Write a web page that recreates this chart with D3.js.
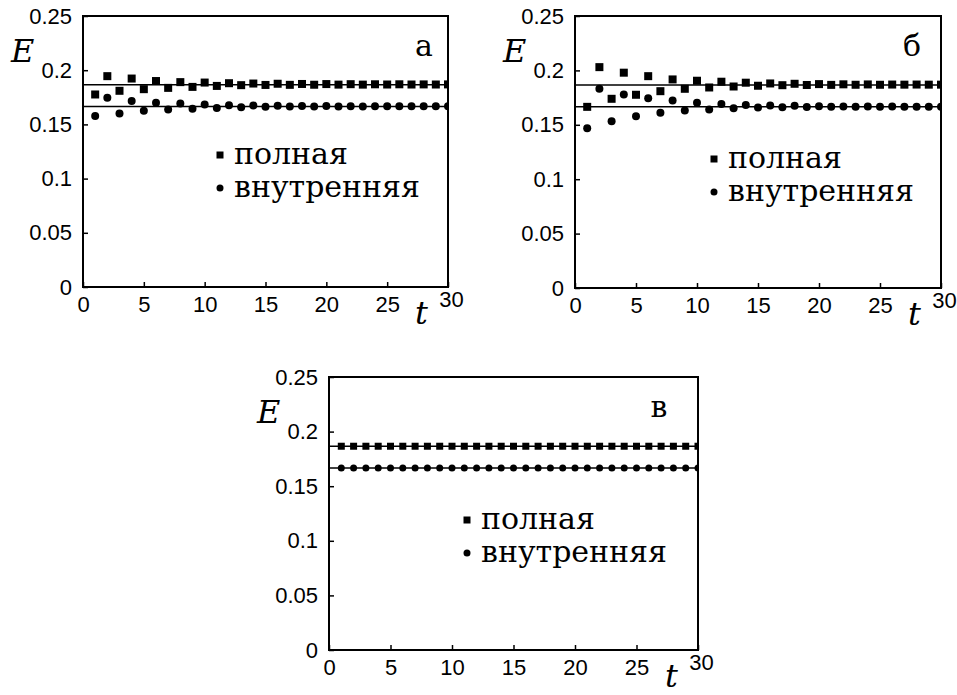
<!DOCTYPE html>
<html>
<head>
<meta charset="utf-8">
<script src="https://cdn.jsdelivr.net/npm/d3@7"></script>
<style>
  body { margin: 0; background: #fff; }
  svg { display: block; }
</style>
</head>
<body>
<svg width="957" height="695"></svg>
<script>
const width = 957, height = 695;
const svg = d3.select("svg");
const SANS = "Liberation Sans, Arial, sans-serif";
const SERIF = "DejaVu Serif, Liberation Serif, serif";

// Data
const tValues = [1, 2, 3, 4, 5, 6, 7, 8, 9, 10, 11, 12, 13, 14, 15,
                 16, 17, 18, 19, 20, 21, 22, 23, 24, 25, 26, 27, 28, 29, 30];
const xTicks = [0, 5, 10, 15, 20, 25, 30];
const yTicks = [0, 0.05, 0.1, 0.15, 0.2, 0.25];
const legendLabels = ["полная", "внутренняя"];

const fullA = [0.1776, 0.1945, 0.181, 0.1923, 0.1825, 0.190, 0.1837, 0.189, 0.1846, 0.1886,
               0.1855, 0.188, 0.1862, 0.1877, 0.1864, 0.1875, 0.1865, 0.1873, 0.1866, 0.1872,
               0.1867, 0.1871, 0.1867, 0.187, 0.1868, 0.187, 0.1868, 0.1869, 0.1868, 0.1869];
const innerA = [0.1578, 0.1745, 0.160, 0.1717, 0.1625, 0.170, 0.1637, 0.1692, 0.1645, 0.1683,
                0.1652, 0.1677, 0.1659, 0.1674, 0.1662, 0.1672, 0.1664, 0.1670, 0.1665, 0.1669,
                0.1666, 0.1668, 0.1666, 0.1668, 0.1667, 0.1667, 0.1667, 0.1667, 0.1667, 0.1667];

const fullB = [0.1665, 0.203, 0.1739, 0.1979, 0.1776, 0.1947, 0.1809, 0.1917, 0.1831, 0.1905,
               0.1843, 0.1896, 0.1852, 0.1887, 0.1859, 0.188, 0.1864, 0.1877, 0.1866, 0.1874,
               0.1867, 0.1872, 0.1868, 0.1871, 0.1868, 0.187, 0.1869, 0.187, 0.1869, 0.1869];
const innerB = [0.1468, 0.1831, 0.1532, 0.1779, 0.1578, 0.1745, 0.161, 0.1723, 0.1631, 0.1702,
                0.164, 0.1692, 0.1652, 0.1683, 0.1659, 0.1677, 0.1662, 0.1674, 0.1664, 0.1671,
                0.1665, 0.1669, 0.1666, 0.1668, 0.1666, 0.1668, 0.1667, 0.1667, 0.1667, 0.1667];

const fullC = [0.1866, 0.1866, 0.1866, 0.1866, 0.1866, 0.1866, 0.1866, 0.1866, 0.1866, 0.1866,
               0.1866, 0.1866, 0.1866, 0.1866, 0.1866, 0.1866, 0.1866, 0.1866, 0.1866, 0.1866,
               0.1866, 0.1866, 0.1866, 0.1866, 0.1866, 0.1866, 0.1866, 0.1866, 0.1866, 0.1866];
const innerC = [0.1666, 0.1666, 0.1666, 0.1666, 0.1666, 0.1666, 0.1666, 0.1666, 0.1666, 0.1666,
                0.1666, 0.1666, 0.1666, 0.1666, 0.1666, 0.1666, 0.1666, 0.1666, 0.1666, 0.1666,
                0.1666, 0.1666, 0.1666, 0.1666, 0.1666, 0.1666, 0.1666, 0.1666, 0.1666, 0.1666];

// exact (reference) levels drawn as horizontal lines
const levelFull = 0.1866, levelInner = 0.1666;

const panels = [
  { id: "a", letter: "а", full: fullA, inner: innerA, box: [83, 448, 16, 287], sq: 8, r: 4, legend: [220, 155], letterDx: -24 },
  { id: "b", letter: "б", full: fullB, inner: innerB, box: [575, 941, 16, 288], sq: 8, r: 4, legend: [714, 159], letterDx: -29 },
  { id: "c", letter: "в", full: fullC, inner: innerC, box: [329, 698, 377, 650], sq: 7, r: 3.5, legend: [467, 520], letterDx: -39 }
];

panels.forEach(drawPanel);

function drawPanel(p) {
  const [x0, x1, y0, y1] = p.box;
  const x = d3.scaleLinear().domain([0, 30]).range([x0, x1]);
  const y = d3.scaleLinear().domain([0, 0.25]).range([y1, y0]);
  const g = svg.append("g");

  g.append("clipPath").attr("id", "clip-" + p.id)
    .append("rect").attr("x", x0).attr("y", y0).attr("width", x1 - x0).attr("height", y1 - y0);

  // reference lines
  g.selectAll("line.level").data([levelFull, levelInner]).join("line")
    .attr("class", "level")
    .attr("x1", x0).attr("x2", x1)
    .attr("y1", d => y(d)).attr("y2", d => y(d))
    .attr("stroke", "#000").attr("stroke-width", 1.5);

  const marks = g.append("g").attr("clip-path", `url(#clip-${p.id})`);
  marks.selectAll("rect").data(p.full).join("rect")
    .attr("x", (d, i) => x(tValues[i]) - p.sq / 2)
    .attr("y", d => y(d) - p.sq / 2)
    .attr("width", p.sq).attr("height", p.sq)
    .attr("fill", "#000");
  marks.selectAll("circle").data(p.inner).join("circle")
    .attr("cx", (d, i) => x(tValues[i]))
    .attr("cy", d => y(d))
    .attr("r", p.r)
    .attr("fill", "#000");

  // axes: ticks point inward
  const xAxis = g.append("g").attr("transform", `translate(0,${y1})`)
    .call(d3.axisBottom(x).tickValues(xTicks).tickSize(-5).tickPadding(9).tickFormat(d3.format("d")));
  xAxis.selectAll(".tick text").filter(d => d === 30).attr("transform", "translate(3,-5)");
  const yAxis = g.append("g").attr("transform", `translate(${x0},0)`)
    .call(d3.axisLeft(y).tickValues(yTicks).tickSize(-5).tickPadding(11).tickFormat(d => d === 0 ? "0" : String(+d.toFixed(2))));
  [xAxis, yAxis].forEach(a => {
    a.attr("font-family", SANS).attr("font-size", 22);
    a.select(".domain").remove();
    a.selectAll(".tick line").attr("stroke", "#000").attr("stroke-width", 1.5);
    a.selectAll(".tick text").attr("fill", "#000");
  });

  g.append("rect")
    .attr("x", x0).attr("y", y0).attr("width", x1 - x0).attr("height", y1 - y0)
    .attr("fill", "none").attr("stroke", "#000").attr("stroke-width", 2);

  // labels
  g.append("text")
    .style("font-family", SERIF)
    .attr("x", x0 - 72).attr("y", y0 + 46)
    .attr("font-size", 32).attr("font-style", "italic")
    .text("E");
  g.append("text")
    .style("font-family", SERIF)
    .attr("x", x1 - 33).attr("y", y1 + 37)
    .attr("font-size", 32).attr("font-style", "italic")
    .text("t");
  g.append("text")
    .style("font-family", SERIF)
    .attr("x", x1 + p.letterDx).attr("y", y0 + 40)
    .attr("text-anchor", "middle")
    .attr("font-size", 30)
    .text(p.letter);

  // legend
  const [lx, ly] = p.legend;
  const lg = g.append("g").attr("transform", `translate(${lx},${ly})`);
  lg.append("rect").attr("x", -3.5).attr("y", -3.5).attr("width", 7).attr("height", 7).attr("fill", "#000");
  lg.append("circle").attr("cx", 0).attr("cy", 33).attr("r", 3.5).attr("fill", "#000");
  lg.selectAll("text").data(legendLabels).join("text")
    .style("font-family", SERIF)
    .attr("x", 14).attr("y", (d, i) => i * 33 + 9)
    .attr("font-size", 30)
    .text(d => d);
}
</script>
</body>
</html>
